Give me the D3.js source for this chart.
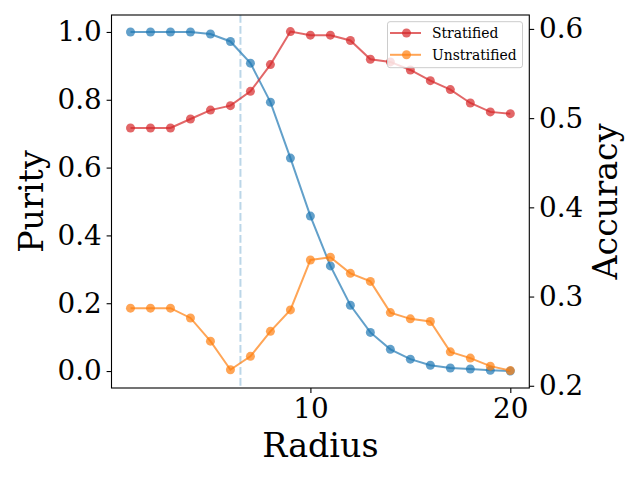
<!DOCTYPE html>
<html><head><meta charset="utf-8">
<script src="https://cdn.jsdelivr.net/npm/d3@7"></script>
<style>body{margin:0;background:#fff}svg{display:block}text{font-family:"DejaVu Serif",serif}</style>
</head><body><svg id="c" width="640" height="480"></svg>
<script>
const radius = [1,2,3,4,5,6,7,8,9,10,11,12,13,14,15,16,17,18,19,20];
const purity = [1.0,1.0,1.0,1.0,0.994,0.972,0.908,0.793,0.628,0.457,0.310,0.194,0.114,0.064,0.035,0.017,0.009,0.006,0.002,0.0];
const stratified = [0.489,0.489,0.489,0.499,0.509,0.514,0.530,0.560,0.597,0.593,0.593,0.587,0.566,0.563,0.554,0.542,0.532,0.517,0.507,0.505];
const unstratified = [0.287,0.287,0.287,0.276,0.250,0.218,0.233,0.261,0.285,0.341,0.344,0.326,0.317,0.282,0.275,0.272,0.238,0.231,0.222,0.217];
const xTicks = [10,20];
const purityTicks = [0.0,0.2,0.4,0.6,0.8,1.0];
const accTicks = [0.2,0.3,0.4,0.5,0.6];
const cutoff = 6.5;

const L=111.5, R=529.3, T=15, B=388;
const svg = d3.select("#c");
const x = d3.scaleLinear().domain([0.05,20.95]).range([L,R]);
const yP = d3.scaleLinear().domain([-0.05,1.05]).range([B,T]);
const yA = d3.scaleLinear().domain([0.1975,0.6156]).range([B,T]);

const blue="#1f77b4", red="#d62728", orange="#ff7f0e";

// cutoff line
svg.append("line").attr("x1",x(cutoff)).attr("x2",x(cutoff)).attr("y1",T).attr("y2",B)
  .attr("stroke",blue).attr("stroke-opacity",0.3).attr("stroke-width",2).attr("stroke-dasharray","7.7,3.3");

function series(vals, y, color){
  const pts = radius.map((r,i)=>[r,vals[i]]);
  const line = d3.line().x(d=>x(d[0])).y(d=>y(d[1]));
  const g = svg.append("g");
  g.append("path").attr("d",line(pts)).attr("fill","none").attr("stroke",color).attr("stroke-opacity",0.7).attr("stroke-width",2);
  g.selectAll("circle").data(pts).enter().append("circle")
    .attr("cx",d=>x(d[0])).attr("cy",d=>y(d[1])).attr("r",4.5).attr("fill",color).attr("fill-opacity",0.7);
}
series(purity, yP, blue);
series(stratified, yA, red);
series(unstratified, yA, orange);

// axes
const fs=27.8;
const ax = svg.append("g").attr("transform",`translate(0,${B})`).call(d3.axisBottom(x).tickValues(xTicks).tickSize(4.9).tickPadding(4.9).tickFormat(d3.format("d")));
const ayL = svg.append("g").attr("transform",`translate(${L},0)`).call(d3.axisLeft(yP).tickValues(purityTicks).tickSize(4.9).tickPadding(4.9).tickFormat(d3.format(".1f")));
const ayR = svg.append("g").attr("transform",`translate(${R},0)`).call(d3.axisRight(yA).tickValues(accTicks).tickSize(4.9).tickPadding(4.9).tickFormat(d3.format(".1f")));
[ax,ayL,ayR].forEach(g=>{
  g.select(".domain").remove();
  g.selectAll("line").attr("stroke","#000").attr("stroke-width",1.1);
  g.selectAll("text").attr("font-size",fs).attr("font-family","DejaVu Serif").attr("fill","#000");
});
svg.append("rect").attr("x",L).attr("y",T).attr("width",R-L).attr("height",B-T)
  .attr("fill","none").attr("stroke","#000").attr("stroke-width",1.1);

// axis labels
svg.append("text").attr("x",(L+R)/2).attr("y",457).attr("text-anchor","middle").attr("font-size",33.3).text("Radius");
svg.append("text").attr("transform",`translate(43,${(T+B)/2}) rotate(-90)`).attr("text-anchor","middle").attr("font-size",33.3).text("Purity");
svg.append("text").attr("transform",`translate(617,${(T+B)/2}) rotate(-90)`).attr("text-anchor","middle").attr("font-size",33.3).text("Accuracy");

// legend
const lg = svg.append("g");
lg.append("rect").attr("x",387.5).attr("y",21.7).attr("width",135).attr("height",46).attr("rx",2.5)
  .attr("fill","#fff").attr("fill-opacity",0.8).attr("stroke","#ccc").attr("stroke-width",1);
const items=[["Stratified",red],["Unstratified",orange]];
items.forEach((it,i)=>{
  const yy = 33 + i*21.8;
  lg.append("line").attr("x1",390).attr("x2",421).attr("y1",yy).attr("y2",yy).attr("stroke",it[1]).attr("stroke-opacity",0.7).attr("stroke-width",2);
  lg.append("circle").attr("cx",406.5).attr("cy",yy).attr("r",4.5).attr("fill",it[1]).attr("fill-opacity",0.7);
  lg.append("text").attr("x",432).attr("y",yy).attr("dy","0.35em").attr("font-size",13.9).text(it[0]);
});
</script></body></html>
